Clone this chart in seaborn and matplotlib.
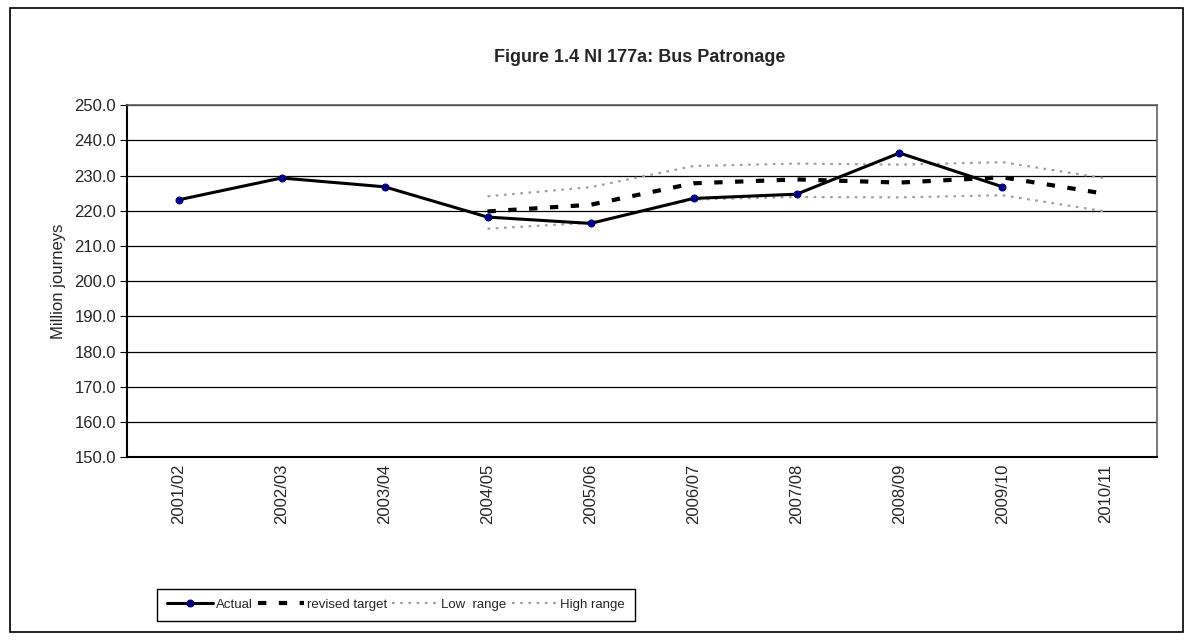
import numpy as np
import pandas as pd
import seaborn as sns
import matplotlib.pyplot as plt
from matplotlib.patches import Rectangle

# data
years = ['2001/02', '2002/03', '2003/04', '2004/05', '2005/06',
         '2006/07', '2007/08', '2008/09', '2009/10', '2010/11']
actual = [223.1, 229.3, 226.8, 218.2, 216.4, 223.5, 224.7, 236.4, 226.8, np.nan]
revised_target = [np.nan, np.nan, np.nan, 219.8, 221.7, 227.8, 228.9, 228.0, 229.5, 224.8]
low_range = [np.nan, np.nan, np.nan, 214.9, 216.6, 223.2, 223.9, 223.8, 224.4, 219.8]
high_range = [np.nan, np.nan, np.nan, 224.1, 226.7, 232.7, 233.4, 233.1, 233.8, 229.2]

df = pd.DataFrame({'pos': np.arange(len(years)), 'year': years,
                   'Actual': actual, 'revised target': revised_target,
                   'Low range': low_range, 'High range': high_range})

sns.set_style('white')
plt.rcParams['font.family'] = ['Liberation Sans', 'DejaVu Sans']

fig = plt.figure(figsize=(11.94, 6.43), dpi=100)
ax = fig.add_axes([0.1064, 0.289, 0.8626, 0.5475])

# outer chart border
fig.patches.append(Rectangle((10 / 1194, 1 - 632 / 643), 1173 / 1194, 624 / 643,
                             transform=fig.transFigure, fill=False,
                             edgecolor='black', linewidth=1.2))

# grey dotted ranges first so they sit underneath
sns.lineplot(data=df, x='pos', y='Low range', ax=ax, color='#a0a0a0',
             linestyle=(0, (1.2, 2.5)), linewidth=1.6, label='Low  range')
sns.lineplot(data=df, x='pos', y='High range', ax=ax, color='#a0a0a0',
             linestyle=(0, (1.2, 2.5)), linewidth=1.6, label='High range')
sns.lineplot(data=df, x='pos', y='revised target', ax=ax, color='black',
             linestyle=(0, (2, 3)), linewidth=3, label='revised target')
sns.lineplot(data=df, x='pos', y='Actual', ax=ax, color='black',
             linewidth=2.2, marker='o', markersize=5, markerfacecolor='#000080',
             markeredgecolor='#000080', label='Actual')

ax.set_xlim(-0.5, len(years) - 0.5)
ax.set_ylim(150, 250)
ax.set_yticks(np.arange(150, 251, 10))
ax.set_yticklabels([f'{v:.1f}' for v in np.arange(150, 251, 10)], fontsize=12)
ax.set_xticks(df['pos'])
ax.set_xticklabels(years, rotation=90, fontsize=12)
ax.set_xticks(np.arange(-0.5, len(years), 1), minor=True)
ax.tick_params(axis='x', which='major', length=0, pad=5)
ax.tick_params(axis='x', which='minor', length=6, width=0.8, color='black', direction='out')
ax.tick_params(axis='y', length=5, width=0.8, color='black', direction='out', left=True, pad=3)

ax.grid(axis='y', color='black', linewidth=0.9)
ax.grid(axis='x', visible=False)
for side in ['top', 'right']:
    ax.spines[side].set_color('#606060')
    ax.spines[side].set_linewidth(1.2)
ax.spines['left'].set_color('black')
ax.spines['left'].set_linewidth(1.5)
ax.spines['bottom'].set_color('black')
ax.spines['bottom'].set_linewidth(1.5)

ax.set_xlabel('')
ax.set_ylabel('Million journeys', fontsize=12, labelpad=6)

fig.text(0.536, 1 - 57 / 643, 'Figure 1.4 NI 177a: Bus Patronage', ha='center', va='center',
         fontsize=13, fontweight='bold')

handles, labels = ax.get_legend_handles_labels()
order = [3, 2, 0, 1]
leg = ax.legend([handles[i] for i in order], [labels[i] for i in order], ncol=4,
                loc='lower left', bbox_to_anchor=(157 / 1194, 1 - 621 / 643),
                bbox_transform=fig.transFigure, fontsize=9.5, frameon=True,
                fancybox=False, edgecolor='black', framealpha=1,
                handlelength=3.5, handletextpad=0.2, columnspacing=0.4,
                borderpad=0.75, borderaxespad=0)
leg.get_frame().set_linewidth(1.0)

plt.savefig('out.png', dpi=100)
